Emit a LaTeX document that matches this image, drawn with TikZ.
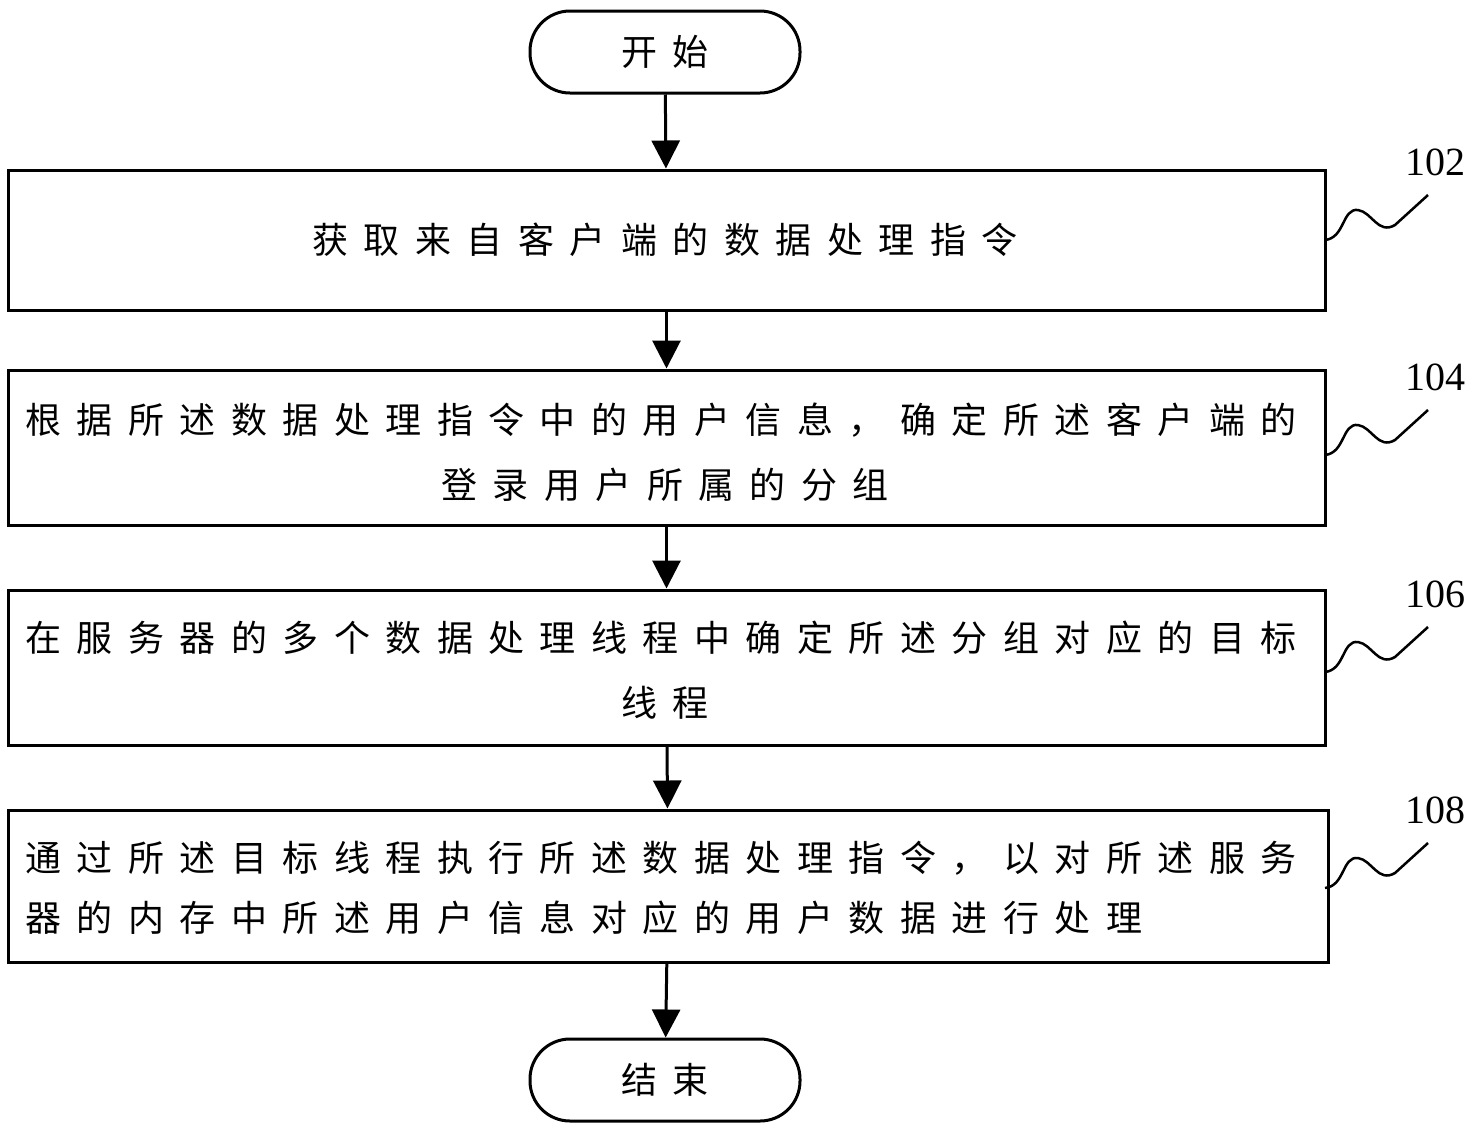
\documentclass[tikz,border=0pt]{standalone}
\usepackage{fontspec}
\setmainfont{Liberation Serif}
\newfontfamily\cjk{Noto Sans CJK SC}[LetterSpace=43]
\usetikzlibrary{arrows.meta}
\begin{document}
\begin{tikzpicture}[x=1pt,y=-1pt,
  box/.style={draw,line width=3pt,inner sep=0pt},
  pill/.style={draw,line width=3pt,rounded corners=40pt,minimum width=270pt,minimum height=82pt,font=\cjk\fontsize{36}{40}\selectfont},
  txt/.style={font=\cjk\fontsize{36}{40}\selectfont,inner sep=0pt},
  arr/.style={line width=3pt,-{Triangle[length=28pt,width=28pt]}},
  num/.style={font=\fontsize{40}{44}\selectfont,inner sep=0pt},
  wave/.style={line width=2.5pt}]
\useasboundingbox (0,0) rectangle (1475,1128);
\node[pill] (s) at (665,52) {开始};
\node[box,minimum width=1317pt,minimum height=140pt] (b1) at (666.5,240) {};
\node[box,minimum width=1317pt,minimum height=155pt] (b2) at (666.5,447.5) {};
\node[box,minimum width=1317pt,minimum height=155pt] (b3) at (666.5,667.5) {};
\node[box,minimum width=1320pt,minimum height=152pt] (b4) at (668,886) {};
\node[pill] (e) at (665,1080) {结束};
\node[txt] (t1) at (665,240) {获取来自客户端的数据处理指令};
\node[txt,anchor=west] (t2a) at (25,420) {根据所述数据处理指令中的用户信息，确定所述客户端的};
\node[txt] (t2b) at (665,485) {登录用户所属的分组};
\node[txt,anchor=west] (t3a) at (25,638) {在服务器的多个数据处理线程中确定所述分组对应的目标};
\node[txt] (t3b) at (665,703) {线程};
\node[txt,anchor=west] (t4a) at (25,858) {通过所述目标线程执行所述数据处理指令，以对所述服务};
\node[txt,anchor=west] (t4b) at (25,918) {器的内存中所述用户信息对应的用户数据进行处理};
\draw[arr] (s) -- (b1);
\draw[arr] (b1) -- (b2);
\draw[arr] (b2) -- (b3);
\draw[arr] (b3) -- (b4);
\draw[arr] (b4) -- (e);
\foreach \n/\y/\l in {1/240/102,2/455/104,3/672/106,4/888/108}{
  \coordinate (w\n) at (1325,\y);
  \node[num] (n\n) at (1435,\y-78) {\l};
  \draw[wave] (w\n) .. controls (1345,\y-2) and (1342,\y-32) .. (1358,\y-30)
     .. controls (1372,\y-28) and (1378,\y-5) .. (1395,\y-15) -- (1428,\y-45);
}
\end{tikzpicture}
\end{document}
